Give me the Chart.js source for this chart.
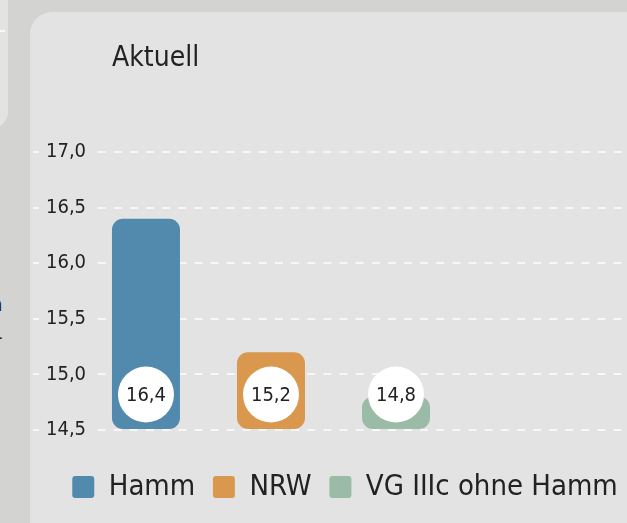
<!DOCTYPE html>
<html lang="de">
<head>
<meta charset="utf-8">
<script src="https://cdn.jsdelivr.net/npm/chart.js@4.4.1/dist/chart.umd.min.js"></script>
<style>
  html, body { margin: 0; padding: 0; width: 627px; height: 523px; overflow: hidden; background: #d3d3d1; }
  body { position: relative; font-family: "DejaVu Sans Condensed", "DejaVu Sans", sans-serif; }
  #leftPanel { position: absolute; left: -300px; top: -20px; width: 307.5px; height: 148px; background: #e3e3e3; border-radius: 16px; }
  #leftDash { position: absolute; left: 0; top: 30px; width: 5px; height: 2px; background: #f8f8f8; }
  .frag { position: absolute; color: #222; font-size: 20px; line-height: 1; }
  #panel { position: absolute; left: 30px; top: 12px; width: 800px; height: 600px; background: #e3e3e3; border-radius: 22px; overflow: hidden; }
  #title { position: absolute; left: 112px; top: 43px; font-size: 28px; line-height: 1; color: #222; white-space: nowrap; }
  #chart { position: absolute; left: -126px; top: -14px; }
</style>
</head>
<body>
<div id="leftPanel"></div>
<div id="leftDash"></div>
<div class="frag" style="left:-9px; top:294px;">n</div>
<div class="frag" style="left:-4px; top:327px;">-</div>
<div id="panel">
  <canvas id="chart" width="882" height="586"></canvas>
</div>
<div id="title">Aktuell</div>
<script>
const categories = ['Aktuell'];
const seriesNames = ['Hamm', 'NRW', 'VG IIIc ohne Hamm'];
const hammValues = [16.4];
const nrwValues = [15.2];
const vgValues = [14.8];
const seriesColors = ['#528aad', '#d9984e', '#9abba6'];
const yTickLabels = ['14,5', '15,0', '15,5', '16,0', '16,5', '17,0'];
const yMin = 14.5, yMax = 17.0, yStep = 0.5;

const FONT = '"DejaVu Sans Condensed", "DejaVu Sans", sans-serif';
const fmt = v => v.toFixed(1).replace('.', ',');

const circleLabels = {
  id: 'circleLabels',
  afterDatasetsDraw(chart) {
    const ctx = chart.ctx;
    ctx.save();
    chart.data.datasets.forEach((ds, i) => {
      const meta = chart.getDatasetMeta(i);
      meta.data.forEach((bar, j) => {
        const cx = bar.x;
        const cy = bar.base - 34.5;
        ctx.beginPath();
        ctx.arc(cx, cy, 28, 0, Math.PI * 2);
        ctx.fillStyle = '#ffffff';
        ctx.fill();
        ctx.fillStyle = '#222222';
        ctx.font = '20px ' + FONT;
        ctx.textAlign = 'center';
        ctx.textBaseline = 'middle';
        ctx.fillText(fmt(ds.data[j]), cx, cy + 1);
      });
    });
    ctx.restore();
  }
};

const valueSets = [hammValues, nrwValues, vgValues];

new Chart(document.getElementById('chart'), {
  type: 'bar',
  data: {
    labels: categories,
    datasets: seriesNames.map((name, i) => ({
      label: name,
      data: valueSets[i],
      base: yMin,
      backgroundColor: seriesColors[i],
      borderRadius: 11,
      borderSkipped: false,
      categoryPercentage: 0.511,
      barPercentage: 0.544
    }))
  },
  options: {
    responsive: false,
    animation: false,
    layout: { padding: 0 },
    plugins: {
      tooltip: { enabled: false },
      title: { display: false },
      legend: {
        position: 'bottom',
        labels: {
          boxWidth: 22,
          boxHeight: 22,
          useBorderRadius: true,
          borderRadius: 3,
          padding: 17.7,
          color: '#222',
          font: { family: FONT, size: 29 }
        }
      }
    },
    scales: {
      x: {
        display: true,
        grid: { display: false },
        border: { display: false },
        ticks: { display: false },
        afterFit: s => { s.height = 24.8; }
      },
      y: {
        position: 'left',
        min: yMin,
        max: yMax,
        grid: { color: '#f7f7f7', lineWidth: 2, drawTicks: false },
        border: { display: false, dash: [8, 8.13] },
        ticks: {
          stepSize: yStep,
          mirror: true,
          padding: 142,
          crossAlign: 'near',
          color: '#222',
          font: { family: FONT, size: 20 },
          showLabelBackdrop: true,
          backdropColor: '#e3e3e3',
          backdropPadding: { left: 7, right: 6, top: 3, bottom: 3 },
          callback: (v, i) => yTickLabels[i]
        },
        afterFit: s => { s.width = 0; }
      },
      y2: {
        position: 'right',
        display: true,
        grid: { display: false },
        border: { display: false },
        ticks: { display: false },
        afterFit: s => { s.width = 148; }
      }
    }
  },
  plugins: [circleLabels]
});
</script>
</body>
</html>
